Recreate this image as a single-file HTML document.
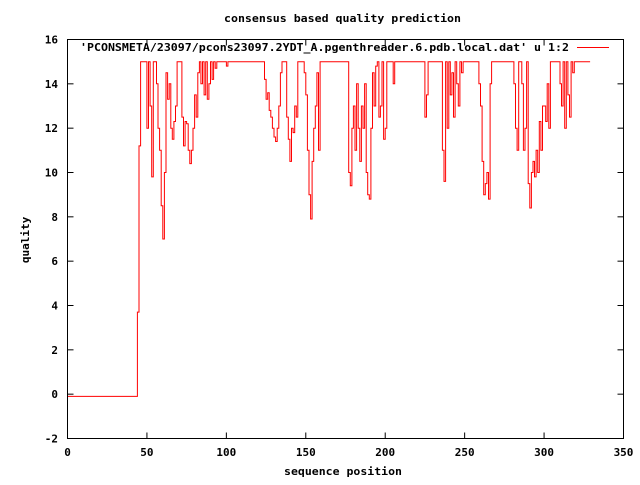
<!DOCTYPE html>
<html><head><meta charset="utf-8"><style>
body{margin:0;background:#fff;}
svg text{font-family:"DejaVu Sans Mono","Liberation Mono",monospace;font-size:11px;font-weight:bold;fill:#000;}
</style></head><body>
<svg id="chart" width="640" height="480" xmlns="http://www.w3.org/2000/svg">
<rect x="0" y="0" width="640" height="480" fill="#fff"/>
<text x="224" y="22" textLength="237" lengthAdjust="spacingAndGlyphs">consensus based quality prediction</text>
<text x="284" y="475" textLength="118" lengthAdjust="spacingAndGlyphs">sequence position</text>
<text x="0" y="0" text-anchor="middle" transform="translate(29,240) rotate(-90)">quality</text>
<g id="axes"></g>
<polyline id="series" fill="none" stroke="#f00" stroke-width="1"/>
<rect x="67.5" y="39.5" width="556" height="399" fill="none" stroke="#000"/>
<text x="80" y="51" textLength="489" lengthAdjust="spacingAndGlyphs">'PCONSMETA/23097/pcons23097.2YDT_A.pgenthreader.6.pdb.local.dat' u 1:2</text>
<line x1="577" y1="47.5" x2="609" y2="47.5" stroke="#f00"/>
</svg>
<script>
const xTicks=[0,50,100,150,200,250,300,350];
const yTicks=[-2,0,2,4,6,8,10,12,14,16];
const quality=[
-0.1,-0.1,-0.1,-0.1,-0.1,-0.1,-0.1,-0.1,-0.1,-0.1,
-0.1,-0.1,-0.1,-0.1,-0.1,-0.1,-0.1,-0.1,-0.1,-0.1,
-0.1,-0.1,-0.1,-0.1,-0.1,-0.1,-0.1,-0.1,-0.1,-0.1,
-0.1,-0.1,-0.1,-0.1,-0.1,-0.1,-0.1,-0.1,-0.1,-0.1,
-0.1,-0.1,-0.1,-0.1,
3.7,11.2,15,15,15,15,
12,15,13,9.8,15,15,14,12,11,8.5,
7,10,14.5,13.3,14,12,11.5,12.3,13,15,
15,15,12.5,11.2,12.3,12.2,11,10.4,11,12,
13.5,12.5,14.5,15,14,15,13.5,15,13.3,14,
15,14.2,15,14.7,15,15,15,15,15,15,
14.8,15,15,15,15,15,15,15,15,15,
15,15,15,15,15,15,15,15,15,15,
15,15,15,15,14.2,13.3,13.6,12.8,12.5,12,
11.6,11.4,12,13,14.5,15,15,15,12.5,11.5,
10.5,12,11.8,13,12.5,15,15,15,15,14.5,
13.5,11,9,7.9,10.5,12,13,14.5,11,15,
15,15,15,15,15,15,15,15,15,15,
15,15,15,15,15,15,15,10,9.4,12,
13,11,14,12,10.5,13,12,14,10,9,
8.8,12,14.5,13,14.8,15,12.5,13,15,11.5,
12,15,15,15,15,14,15,15,15,15,
15,15,15,15,15,15,15,15,15,15,
15,15,15,15,15,12.5,13.5,15,15,15,
15,15,15,15,15,15,11,9.6,15,12,
15,13.5,14.5,12.5,15,14,13,15,14.5,15,
15,15,15,15,15,15,15,15,15,14,
13,10.5,9,9.5,10,8.8,14,15,15,15,
15,15,15,15,15,15,15,15,15,15,
15,14,12,11,15,15,14,11,12,15,
9.5,8.4,10,10.5,9.8,11,10,12.3,11,13,
13,12.3,14,12,15,15,15,15,15,15,
14,13,15,12,15,13.5,12.5,15,14.5,15,
15,15,15,15,15,15,15,15,15,15
];
const X0=67.5,X1=623.5,Y0=438.5,Y1=39.5;
function sx(v){return X0+(v-0)/(350-0)*(X1-X0);}
function sy(v){return Y0-(v-(-2))/(16-(-2))*(Y0-Y1);}
const NS="http://www.w3.org/2000/svg";
const axes=document.getElementById('axes');
function mk(tag,attrs){const e=document.createElementNS(NS,tag);for(const k in attrs)e.setAttribute(k,attrs[k]);axes.appendChild(e);return e;}
xTicks.forEach(t=>{
  const x=sx(t);
  const a=mk('line',{x1:x,y1:Y0,x2:x,y2:Y0-6,stroke:'#000'});
  
  
  const b=mk('line',{x1:x,y1:Y1,x2:x,y2:Y1+6,stroke:'#000'});
  
  
  const l=mk('text',{x:x,y:456,'text-anchor':'middle'});l.textContent=t;
  
  
});
yTicks.forEach(t=>{
  const y=sy(t);
  const a=mk('line',{x1:X0,y1:y,x2:X0+6,y2:y,stroke:'#000'});
  
  
  const b=mk('line',{x1:X1,y1:y,x2:X1-6,y2:y,stroke:'#000'});
  
  
  const l=mk('text',{x:58,y:y+4,'text-anchor':'end'});l.textContent=t;
  
  
});
const pts=[];
quality.forEach((q,i)=>{
  const x=sx(i),y=sy(q);
  if(i>0)pts.push(x.toFixed(1)+','+sy(quality[i-1]).toFixed(1));
  pts.push(x.toFixed(1)+','+y.toFixed(1));
});
document.getElementById('series').setAttribute('points',pts.join(' '));
</script>
</body></html>
